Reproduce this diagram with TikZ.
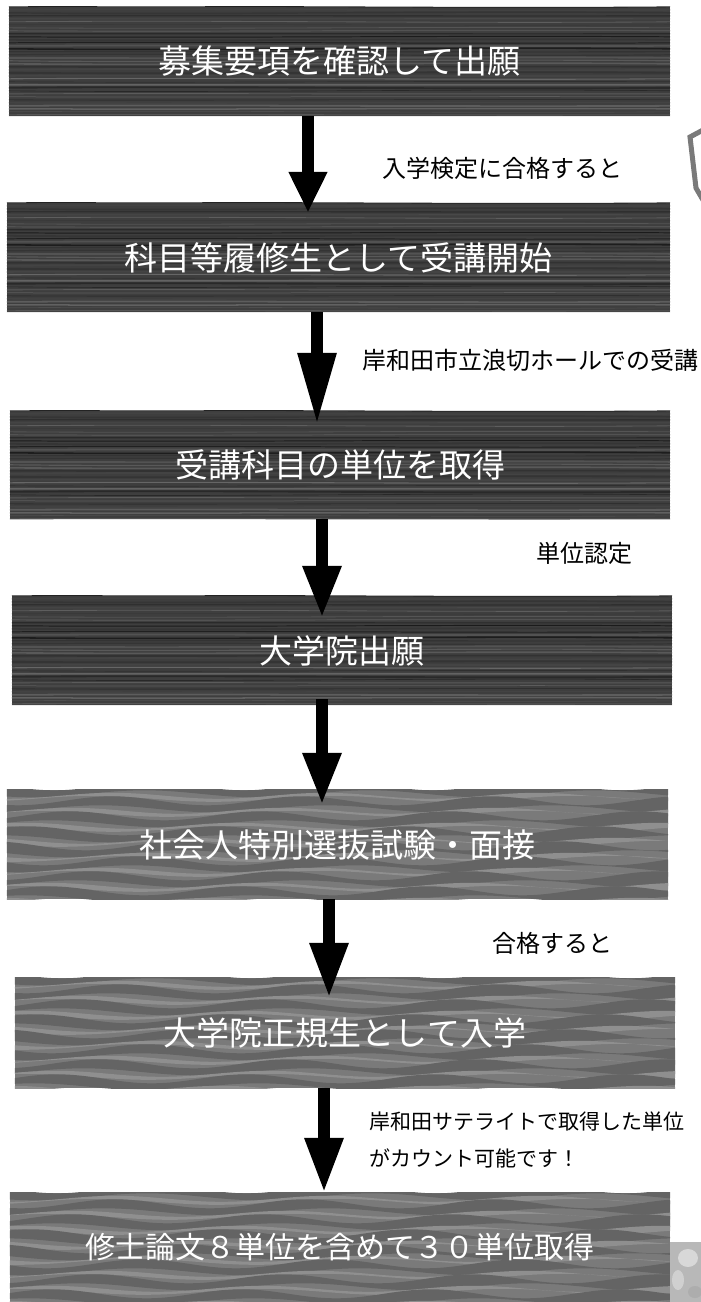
\documentclass[tikz,border=0pt]{standalone}
\usepackage{fontspec}
\newfontfamily\jp{Noto Sans CJK JP}
\usetikzlibrary{arrows.meta,calc,backgrounds}
\pgfdeclarelayer{bottom}
\pgfsetlayers{bottom,background,main}
\definecolor{woodbase}{HTML}{3E3E3E}
\definecolor{wavebase}{HTML}{7A7A7A}
\definecolor{wavedark}{HTML}{646464}
\definecolor{wavelight}{HTML}{8F8F8F}
\definecolor{shieldgray}{HTML}{7A7A7A}
\definecolor{photogray}{HTML}{B8B8B8}
\tikzset{
  flowbox/.style={rectangle, inner sep=0pt, minimum height=109pt, text=white,
    font=\jp\fontsize{33}{33}\selectfont},
  smallbox/.style={flowbox, font=\jp\fontsize{30}{30}\selectfont},
  lbl/.style={font=\jp\fontsize{24}{24}\selectfont, text=black, inner sep=0pt, anchor=west},
  lblsmall/.style={lbl, font=\jp\fontsize{21}{21}\selectfont},
  flowarrow/.style={line width=12pt, black, -{Triangle[length=#1,width=36pt]}},
  flowarrow/.default=52pt
}
\newcommand\woodfill[1]{%
  \begin{pgfonlayer}{background}
  \begin{scope}
    \fill[woodbase] (#1.south west) rectangle (#1.north east);
    \clip (#1.south west) rectangle (#1.north east);
    \pgfmathsetseed{7}
    \foreach \i in {0,...,37}{%
      \pgfmathsetmacro\g{60+30*rnd}
      \pgfmathsetmacro\a{5*rnd-2.5}
      \pgfmathsetmacro\w{0.6+1.4*rnd}
      \draw[line width=\w pt, color=black!\g]
        ($(#1.north west)+(0,3*\i)$) .. controls +(220,\a) and +(-220,-\a) ..
        ($(#1.north east)+(0,3*\i)$);
    }
  \end{scope}
  \end{pgfonlayer}}
\newcommand\wavefill[1]{%
  \begin{pgfonlayer}{background}
  \begin{scope}
    \fill[wavebase] (#1.south west) rectangle (#1.north east);
    \clip (#1.south west) rectangle (#1.north east);
    \begin{scope}[shift={(#1.north west)}]
      \foreach \i/\ph in {0/0,1/70,2/150,3/230,4/300,5/20,6/110,7/190}{%
        \pgfmathsetmacro\yy{15*\i-4}
        \fill[wavedark] plot[domain=0:700, samples=60, smooth]
            (\x, {\yy + 4.5*sin(1.9*\x + \ph)})
          -- plot[domain=700:0, samples=60, smooth]
            (\x, {\yy + 8 + 3.5*sin(1.6*\x + \ph + 50)}) -- cycle;
        \fill[wavelight] plot[domain=0:700, samples=60, smooth]
            (\x, {\yy + 10 + 3*sin(1.7*\x + \ph + 90)})
          -- plot[domain=700:0, samples=60, smooth]
            (\x, {\yy + 13 + 3*sin(1.5*\x + \ph + 140)}) -- cycle;
      }
    \end{scope}
  \end{scope}
  \end{pgfonlayer}}
\begin{document}
\begin{tikzpicture}[x=1pt, y=-1pt]
  \begin{pgfonlayer}{bottom}
    \fill[white] (0,0) rectangle (701,1302);
  \end{pgfonlayer}
  \useasboundingbox (0,0) rectangle (701,1302);

  % boxes
  \node[flowbox, minimum width=661pt] (b1) at (339.5,61.5) {募集要項を確認して出願};
  \node[flowbox, minimum width=663pt] (b2) at (338.5,257.5) {科目等履修生として受講開始};
  \node[flowbox, minimum width=660pt, minimum height=108pt] (b3) at (340,465) {受講科目の単位を取得};
  \node[flowbox, minimum width=660pt] (b4) at (342,650.5) {大学院出願};
  \node[flowbox, minimum width=661pt] (b5) at (337.5,844.5) {社会人特別選抜試験・面接};
  \node[flowbox, minimum width=660pt, minimum height=110pt] (b6) at (345,1033) {大学院正規生として入学};
  \node[smallbox, minimum width=660pt] (b7) at (340,1247.5) {修士論文８単位を含めて３０単位取得};

  \woodfill{b1}
  \woodfill{b2}
  \woodfill{b3}
  \woodfill{b4}
  \wavefill{b5}
  \wavefill{b6}
  \wavefill{b7}

  % photo fragment and shield fragment at right edge
  \begin{scope}
    \clip (0,0) rectangle (701,1302);
    \fill[photogray] (670,1242) rectangle (701,1302);
    \fill[white, opacity=0.45] (688,1258) ellipse (10pt and 9pt);
    \fill[white, opacity=0.35] (678,1280) ellipse (6pt and 10pt);
    \fill[black!40, opacity=0.35] (695,1292) ellipse (7pt and 6pt);
    \draw[shieldgray, line width=5pt, line join=miter] (703,130) -- (690,137) -- (696,188) -- (703,200);
  \end{scope}

  % connectors
  \draw[flowarrow=41pt, shorten >=-10pt] ([xshift=-31.5pt]b1.south) -- ([xshift=-30.5pt]b2.north);
  \draw[flowarrow=72pt, shorten >=-14pt] ([xshift=-21.5pt]b2.south) -- ([xshift=-23pt]b3.north);
  \draw[flowarrow=52pt, shorten >=-22pt] ([xshift=-18pt]b3.south) -- ([xshift=-20pt]b4.north);
  \draw[flowarrow=52pt, shorten >=-15pt, shorten <=-6pt] ([xshift=-20pt]b4.south) -- ([xshift=-15.5pt]b5.north);
  \draw[flowarrow=55pt, shorten >=-20pt] ([xshift=-8.5pt]b5.south) -- ([xshift=-16pt]b6.north);
  \draw[flowarrow=55pt] ([xshift=-21pt]b6.south) -- ([xshift=-16pt]b7.north);

  % labels
  \node[lbl] (l1) at (382,168) {入学検定に合格すると};
  \node[lbl] (l2) at (362,360) {岸和田市立浪切ホールでの受講};
  \node[lbl] (l3) at (536,553) {単位認定};
  \node[lbl] (l5) at (492,943) {合格すると};
  \node[lblsmall] (l6a) at (369,1122) {岸和田サテライトで取得した単位};
  \node[lblsmall] (l6b) at (369,1158) {がカウント可能です！};
\end{tikzpicture}
\end{document}
